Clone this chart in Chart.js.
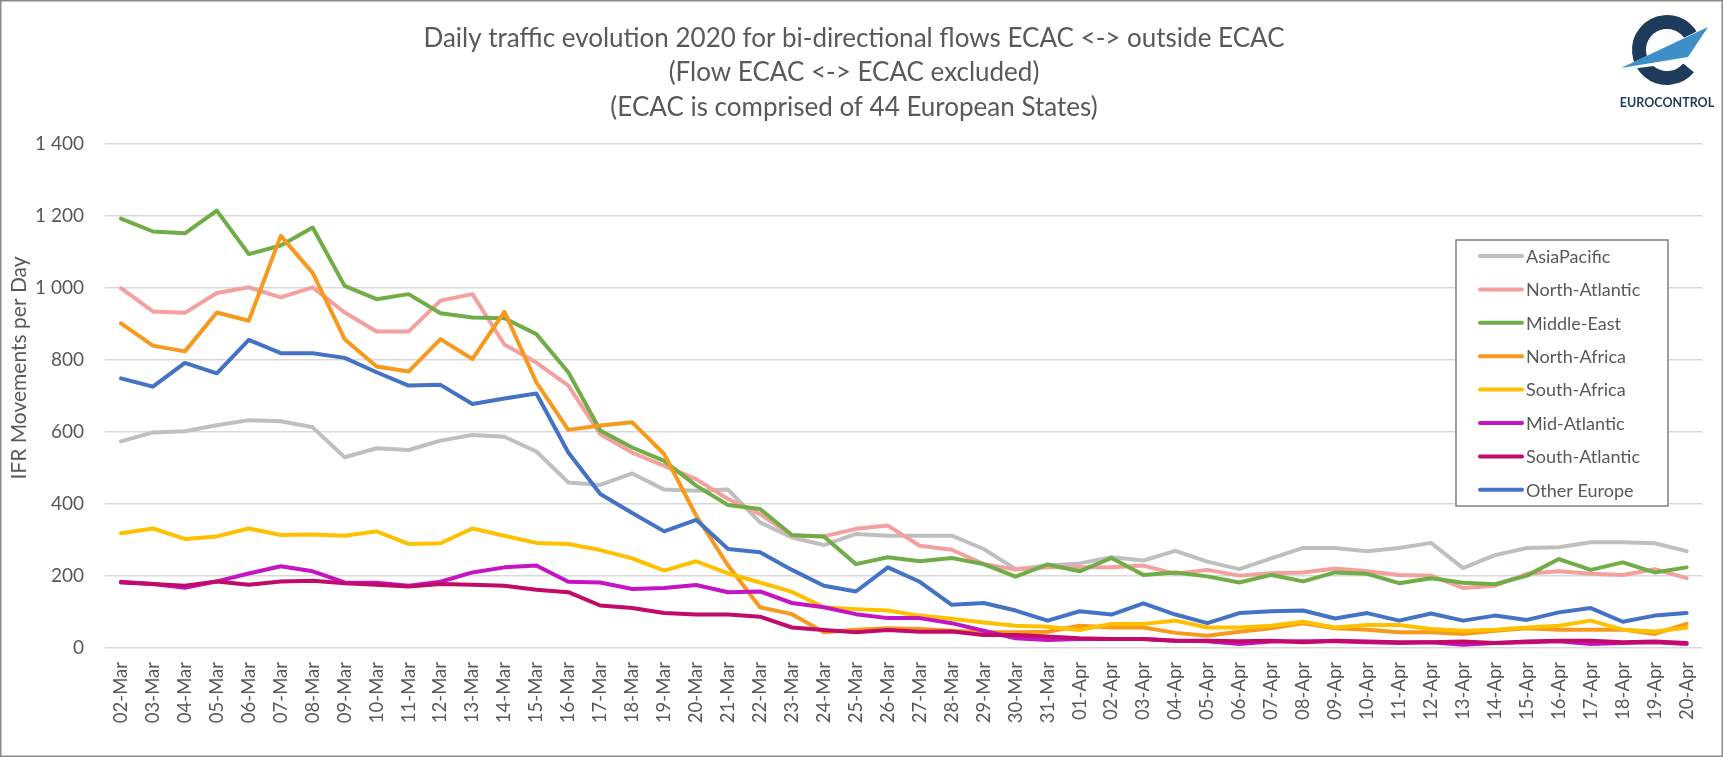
<!DOCTYPE html>
<html>
<head>
<meta charset="utf-8">
<title>Daily traffic evolution 2020</title>
<script src="https://cdn.jsdelivr.net/npm/chart.js@4.4.0/dist/chart.umd.min.js"></script>
<style>
  html, body { margin: 0; padding: 0; background: #fff; }
  canvas { display: block; }
</style>
</head>
<body>
<canvas id="chart" width="1723" height="757"></canvas>
<script>
const days = [
  "02-Mar","03-Mar","04-Mar","05-Mar","06-Mar","07-Mar","08-Mar","09-Mar","10-Mar","11-Mar",
  "12-Mar","13-Mar","14-Mar","15-Mar","16-Mar","17-Mar","18-Mar","19-Mar","20-Mar","21-Mar",
  "22-Mar","23-Mar","24-Mar","25-Mar","26-Mar","27-Mar","28-Mar","29-Mar","30-Mar","31-Mar",
  "01-Apr","02-Apr","03-Apr","04-Apr","05-Apr","06-Apr","07-Apr","08-Apr","09-Apr","10-Apr",
  "11-Apr","12-Apr","13-Apr","14-Apr","15-Apr","16-Apr","17-Apr","18-Apr","19-Apr","20-Apr"
];

const asiaPacific = [574,599,602,619,633,630,613,530,555,550,576,592,587,546,460,
  453,485,440,437,440,349,307,286,317,312,312,312,275,219,229,
  235,252,243,270,240,219,249,278,278,269,278,292,222,258,278,280,294,294,291,269];
const northAtlantic = [1000,935,931,986,1002,974,1002,932,879,879,965,983,843,793,729,
  594,543,506,469,414,372,312,310,331,340,284,273,233,218,224,
  224,224,229,206,217,201,208,210,221,213,203,201,167,173,206,213,206,203,219,194];
const middleEast = [1193,1157,1152,1215,1094,1118,1168,1006,969,983,930,918,916,872,766,
  604,557,520,451,397,386,314,310,233,252,241,250,233,198,232,
  213,250,203,210,199,182,203,185,210,206,180,194,181,177,201,247,217,238,210,224];
const northAfrica = [902,840,824,932,909,1145,1042,858,782,768,858,803,934,738,606,
  618,627,539,368,229,113,94,44,51,55,53,48,44,44,45,
  62,57,57,42,34,45,55,69,55,51,44,44,39,48,55,51,51,51,39,67];
const southAfrica = [319,332,303,310,332,314,315,312,324,289,291,332,312,292,289,
  272,249,215,241,207,182,156,113,108,104,90,81,71,62,59,
  50,67,67,76,57,57,62,73,57,64,64,53,48,51,57,62,76,51,46,56];
const midAtlantic = [184,178,167,185,207,227,213,182,181,173,184,210,224,229,184,
  182,164,167,175,155,157,125,113,94,83,83,69,48,27,22,
  25,25,25,20,19,11,18,19,19,16,14,16,9,14,16,19,11,14,16,11];
const southAtlantic = [182,178,173,185,176,185,187,180,176,171,178,176,173,162,155,
  118,111,97,93,93,87,57,50,44,50,45,46,36,36,32,
  27,25,25,20,20,19,20,16,20,18,16,16,18,14,18,20,20,16,18,14];
const otherEurope = [749,726,792,763,856,819,819,806,766,729,731,678,693,707,543,
  428,375,324,356,275,266,217,173,157,224,184,120,125,104,76,
  102,93,124,93,69,97,102,104,82,97,76,96,76,90,78,99,111,73,90,97];

const seriesNames = ["AsiaPacific","North-Atlantic","Middle-East","North-Africa",
  "South-Africa","Mid-Atlantic","South-Atlantic","Other Europe"];
const seriesValues = [asiaPacific, northAtlantic, middleEast, northAfrica,
  southAfrica, midAtlantic, southAtlantic, otherEurope];
const seriesColors = ["#bfbfbf","#f4a09e","#70ad47","#f7991c",
  "#ffc000","#c414c4","#c20a6a","#4472c4"];

const titleLines = [
  "Daily traffic evolution 2020 for bi-directional flows ECAC <-> outside ECAC",
  "(Flow ECAC <-> ECAC excluded)",
  "(ECAC is comprised of 44 European States)"
];
const yAxisTitle = "IFR Movements per Day";

const FONT = "Lato, 'Open Sans', sans-serif";
const TEXT = "#595959";

// excel style legend box sitting inside the plot
const boxLegend = {
  id: "boxLegend",
  afterDraw(chart) {
    const ctx = chart.ctx;
    const x = 1456, y = 240, w = 212, h = 266;
    ctx.save();
    ctx.fillStyle = "#fff";
    ctx.fillRect(x, y, w, h);
    ctx.strokeStyle = "#7f7f7f";
    ctx.lineWidth = 1.5;
    ctx.strokeRect(x, y, w, h);
    ctx.font = "18px " + FONT;
    ctx.textBaseline = "middle";
    ctx.lineCap = "round";
    chart.data.datasets.forEach((ds, i) => {
      const cy = y + 16 + i * 33.4;
      ctx.strokeStyle = ds.borderColor;
      ctx.lineWidth = 4;
      ctx.beginPath();
      ctx.moveTo(x + 24, cy);
      ctx.lineTo(x + 66, cy);
      ctx.stroke();
      ctx.fillStyle = TEXT;
      ctx.fillText(ds.label, x + 70, cy + 1);
    });
    ctx.restore();
  }
};

// rotated axis title, frame and logo
const extras = {
  id: "extras",
  beforeDraw(chart) {
    const ctx = chart.ctx;
    ctx.save();
    ctx.fillStyle = "#fff";
    ctx.fillRect(0, 0, chart.width, chart.height);
    ctx.restore();
  },
  afterDraw(chart) {
    const ctx = chart.ctx;
    ctx.save();
    ctx.translate(19, 368);
    ctx.rotate(-Math.PI / 2);
    ctx.font = "21px " + FONT;
    ctx.fillStyle = TEXT;
    ctx.textAlign = "center";
    ctx.textBaseline = "middle";
    ctx.fillText(yAxisTitle, 0, 0);
    ctx.restore();

    // logo
    ctx.save();
    ctx.strokeStyle = "#1f3b5c";
    ctx.lineWidth = 14;
    ctx.beginPath();
    ctx.arc(1667, 50, 28, 0.22 * Math.PI, 1.85 * Math.PI);
    ctx.stroke();
    ctx.fillStyle = "#fff";
    ctx.beginPath();
    ctx.moveTo(1616, 71);
    ctx.lineTo(1714, 23);
    ctx.lineTo(1691, 61);
    ctx.closePath();
    ctx.fill();
    ctx.fillStyle = "#3d8fc9";
    ctx.beginPath();
    ctx.moveTo(1621, 68);
    ctx.lineTo(1708, 27);
    ctx.lineTo(1688, 57);
    ctx.closePath();
    ctx.fill();
    ctx.fillStyle = "#1f3b5c";
    ctx.font = "bold 12.5px " + FONT;
    ctx.textAlign = "center";
    ctx.textBaseline = "middle";
    ctx.fillText("EUROCONTROL", 1667, 103);
    ctx.restore();

    ctx.save();
    ctx.strokeStyle = "#8a8a8a";
    ctx.lineWidth = 1.5;
    ctx.strokeRect(0.75, 0.75, chart.width - 1.5, chart.height - 1.5);
    ctx.restore();
  }
};

const datasets = seriesNames.map((name, i) => ({
  label: name,
  data: seriesValues[i],
  borderColor: seriesColors[i],
  backgroundColor: seriesColors[i],
  borderWidth: 4,
  pointRadius: 0,
  tension: 0,
  borderJoinStyle: "round",
  borderCapStyle: "round",
  order: seriesNames.length - i // later series end up on top, like excel
}));

const spaced = (v) => String(v).replace(/\B(?=(\d{3})+(?!\d))/g, " ");

new Chart(document.getElementById("chart"), {
  type: "line",
  data: { labels: days, datasets: datasets },
  plugins: [extras, boxLegend],
  options: {
    responsive: false,
    animation: false,
    layout: { padding: { left: 0, right: 15, top: 0, bottom: 0 } },
    plugins: {
      legend: { display: false },
      tooltip: { enabled: false },
      title: {
        display: true,
        text: titleLines,
        color: TEXT,
        font: { family: FONT, size: 26, weight: "normal", lineHeight: 1.33 },
        padding: { top: 21, bottom: 19.3 }
      }
    },
    scales: {
      x: {
        offset: true,
        grid: { display: false, drawTicks: false },
        border: { display: false },
        ticks: {
          autoSkip: false,
          minRotation: 90,
          maxRotation: 90,
          padding: 14,
          color: TEXT,
          font: { family: FONT, size: 18.5 }
        },
        afterFit: (s) => { s.height = 109; }
      },
      y: {
        min: 0,
        max: 1400,
        grid: { color: "#d9d9d9", lineWidth: 1.5, drawTicks: false },
        border: { display: false },
        ticks: {
          stepSize: 200,
          padding: 21,
          color: TEXT,
          font: { family: FONT, size: 19 },
          callback: (v) => spaced(v)
        },
        afterFit: (s) => { s.width = 105; }
      }
    }
  }
});
</script>
</body>
</html>
